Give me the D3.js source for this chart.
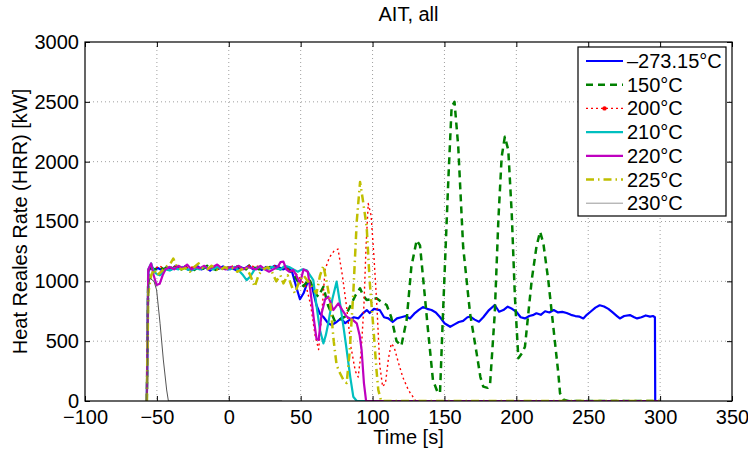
<!DOCTYPE html>
<html><head><meta charset="utf-8">
<script src="https://cdn.jsdelivr.net/npm/d3@7"></script>
<style>body{margin:0;background:#fff}svg{display:block}text{font-family:"Liberation Sans",Arial,sans-serif}</style>
</head><body><svg id="c" width="748" height="450"></svg>
<script>
const title = "AIT, all";
const xLabel = "Time [s]";
const yLabel = "Heat Reales Rate (HRR) [kW]";
const xTicks = [-100,-50,0,50,100,150,200,250,300,350];
const yTicks = [0,500,1000,1500,2000,2500,3000];
const seriesNames = ["\u2013273.15\u00b0C","150\u00b0C","200\u00b0C","210\u00b0C","220\u00b0C","225\u00b0C","230\u00b0C"];

const sBlue = [[-57,0],[-56,1080],[-54,1120],[-52,1100],[-49,1110],[-46,1090],[-43,1120],[-40,1100],[-37,1130],[-34,1105],[-31,1120],[-28,1095],[-25,1110],[-22,1130],[-19,1100],[-16,1115],[-13,1090],[-10,1120],[-7,1105],[-4,1125],[-1,1100],[2,1110],[5,1095],[8,1120],[11,1105],[14,1130],[17,1100],[20,1115],[23,1095],[26,1120],[29,1110],[32,1130],[35,1115],[38,1100],[41,1120],[44,1080],[47,950],[49.5,850],[52,900],[55,1000],[58,950],[61,800],[63.4,730],[66,700],[69,650],[71.6,635],[75,660],[78,690],[81,650],[84,677],[87,700],[90,690],[93,730],[96,760],[98,735],[101,770],[105,760],[108,700],[111,690],[114,660],[117,690],[120,700],[123,710],[126,690],[129,730],[132,760],[135,785],[138,770],[141,760],[144,740],[147,700],[150,650],[154,620],[157,640],[160,660],[163,670],[166,700],[168,705],[171,680],[174,663],[177,700],[181,760],[185,802],[188,746],[191,760],[194,788],[197,770],[200,746],[203,700],[206,690],[209,710],[212,720],[214,733],[217,720],[220,750],[223,740],[226,760],[229,740],[232,745],[235,735],[238,720],[241,710],[244,705],[246.6,690],[249,720],[252,750],[255,780],[258,800],[261,790],[264,770],[267,740],[270,710],[272,690],[275,710],[279,718],[282,700],[284,690],[287,700],[290,715],[293,705],[295,710],[296.4,700],[296.6,0],[300,0]];
const sGreen = [[-57,0],[-56,1050],[-54,1110],[-51,1100],[-48,1120],[-45,1100],[-42,1130],[-39,1105],[-36,1120],[-33,1100],[-30,1125],[-27,1110],[-24,1095],[-21,1120],[-18,1105],[-15,1130],[-12,1110],[-9,1095],[-6,1120],[-3,1105],[0,1115],[3,1100],[6,1125],[9,1110],[12,1100],[15,1140],[18,1115],[21,1100],[24,1120],[27,1105],[30,1130],[33,1110],[36,1100],[39,1120],[42,1090],[45,1060],[48,1000],[52,960],[56,1020],[60,900],[62.3,872],[65.8,955],[69,800],[73.9,663],[77,680],[80.8,705],[84,780],[88,880],[91.3,942],[93.5,880],[95.9,844],[99,850],[102.8,858],[106,830],[109.8,802],[113,700],[116.7,500],[120,460],[123.7,677],[127,1122],[130.7,1345],[133,1300],[135.3,1011],[138.5,600],[142,175],[145,80],[146.9,64],[149,733],[152.7,1847],[155,2459],[157,2500],[159.6,2125],[163,1289],[167.8,733],[172.4,398],[175,200],[177,120],[180,110],[181.7,134],[185,733],[187.5,1512],[189.8,2041],[192,2208],[194.4,2097],[196.8,1568],[199,872],[201.4,357],[204,400],[206,454],[210.7,1011],[214,1289],[216.5,1415],[218.8,1317],[222.2,1011],[225.7,621],[229.2,231],[230.4,64],[233,10],[236,0],[300,0]];
const sRed = [[-57,0],[-56,1080],[-54,1120],[-51,1110],[-48,1130],[-45,1100],[-42,1120],[-39,1115],[-36,1130],[-33,1100],[-30,1120],[-27,1110],[-24,1130],[-21,1100],[-18,1120],[-15,1105],[-12,1125],[-9,1110],[-6,1100],[-3,1120],[0,1115],[3,1130],[6,1100],[9,1120],[12,1110],[15,1140],[18,1115],[21,1130],[24,1100],[27,1120],[30,1110],[33,1140],[36,1120],[39,1110],[42,1100],[45,1080],[48,1050],[51,1000],[54,950],[57,800],[60,550],[62.5,430],[64.5,700],[67,1100],[70,1200],[73,1250],[76,1270],[79,1050],[82,780],[85,450],[88,250],[90,200],[92,400],[94,800],[95.5,1300],[97,1650],[99,1550],[101,1200],[103,800],[105,300],[107,120],[109,150],[111,350],[113,480],[115,450],[118,320],[121,200],[125,90],[130,0],[300,0]];
const sCyan = [[-57,0],[-56,1100],[-54,1150],[-52,1080],[-50,1060],[-48,1050],[-46,1070],[-44,1100],[-41,1090],[-38,1110],[-35,1100],[-32,1120],[-29,1100],[-26,1090],[-23,1110],[-20,1100],[-17,1120],[-14,1110],[-11,1100],[-8,1120],[-5,1105],[-2,1110],[1,1100],[4,1120],[7,1090],[10,1050],[12.4,1010],[15,1040],[18,1100],[21,1120],[24,1110],[27,1100],[30,1120],[33,1110],[36,1100],[39,1130],[42,1120],[45,1100],[48,1080],[51,1100],[54,1095],[56,1060],[58.8,1011],[61,800],[63.4,593],[65.8,482],[67.5,550],[69.2,649],[72,850],[75,997],[77.4,816],[80,600],[82,426],[84.5,200],[86.6,36],[89,0],[300,0]];
const sMagenta = [[-57,0],[-56,1100],[-54,1150],[-52.5,1060],[-50.2,969],[-48,980],[-46,1050],[-44,1100],[-41,1120],[-38,1100],[-35,1130],[-32,1110],[-29,1140],[-26,1100],[-23,1120],[-20,1110],[-17,1130],[-14,1100],[-11,1120],[-8,1140],[-5,1110],[-2,1100],[1,1120],[4,1110],[7,1130],[10,1100],[13,1120],[16,1110],[19,1100],[22,1130],[25,1100],[28,1080],[31,1100],[34,1120],[36,1160],[38,1164],[40,1100],[42,1080],[44.8,1095],[47,1050],[49.5,983],[52,1100],[55,1080],[57,900],[59,700],[61,520],[62.5,510],[64.6,733],[67,850],[69.2,872],[72.7,760],[76.2,816],[79,760],[82,705],[86,680],[89,649],[91,550],[92.4,426],[94,150],[95.5,0],[300,0]];
const sYellow = [[-57,0],[-56,900],[-54,1050],[-52,1100],[-50,1050],[-47,1080],[-44,1120],[-41,1140],[-38.6,1190],[-36,1120],[-33,1100],[-30,1110],[-27,1080],[-24,1120],[-21,1150],[-18,1110],[-15,1100],[-12,1130],[-9,1100],[-6,1090],[-3,1120],[0,1100],[3,1110],[6,1080],[9,1100],[12,1120],[15,1050],[18,955],[21,1060],[24,1100],[27,1120],[30,1080],[33,1000],[36,1050],[38,983],[41,1050],[44,950],[46,900],[49,1000],[52,1050],[55,1000],[58,950],[61,900],[63.5,1050],[65.8,1130],[68,1000],[70.4,844],[73,500],[75,300],[77.4,232],[80,170],[82,150],[84,400],[86.6,900],[89,1500],[91.3,1830],[93,1700],[95.9,1457],[98,1000],[100.5,621],[102.8,250],[104,92],[106,0],[300,0]];
const sGray = [[-57,0],[-56,950],[-54.8,1025],[-52,1000],[-50.2,928],[-47.8,649],[-45.5,343],[-43.2,92],[-42,0],[37,0]];

const styles = [
  {d:sBlue, color:"#0000ff", w:2.2, dash:null},
  {d:sGreen, color:"#008000", w:2.5, dash:"7,5"},
  {d:sRed, color:"#ff0000", w:1.4, dash:"2,3"},
  {d:sCyan, color:"#00bfbf", w:2.2, dash:null},
  {d:sMagenta, color:"#bf00bf", w:2.2, dash:null},
  {d:sYellow, color:"#bfbf00", w:2.5, dash:"8,4,1.5,4"},
  {d:sGray, color:"#555555", w:1, dash:null}
];

const L=85, R=732, T=42, B=401;
const svg = d3.select("#c");
const x = d3.scaleLinear().domain([-100,350]).range([L,R]);
const y = d3.scaleLinear().domain([0,3000]).range([B,T]);

// grid
const g = svg.append("g");
xTicks.forEach(t=>{ if(t>-100 && t<350) g.append("line").attr("x1",x(t)).attr("x2",x(t)).attr("y1",T).attr("y2",B).attr("stroke","#888").attr("stroke-width",0.8).attr("stroke-dasharray","1,3"); });
yTicks.forEach(t=>{ if(t>0 && t<3000) g.append("line").attr("x1",L).attr("x2",R).attr("y1",y(t)).attr("y2",y(t)).attr("stroke","#888").attr("stroke-width",0.8).attr("stroke-dasharray","1,3"); });

// data
const line = d3.line().x(d=>x(d[0])).y(d=>y(d[1]));
svg.append("clipPath").attr("id","cp").append("rect").attr("x",L).attr("y",T).attr("width",R-L).attr("height",B-T);
const dg = svg.append("g").attr("clip-path","url(#cp)");
styles.forEach(s=>{
  const p = dg.append("path").datum(s.d).attr("d",line).attr("fill","none").attr("stroke",s.color).attr("stroke-width",s.w).attr("stroke-linejoin","round");
  if(s.dash) p.attr("stroke-dasharray",s.dash);
});

// axes with inward ticks
const fs = "20px";
const axB = d3.axisBottom(x).tickValues(xTicks).tickSize(-5).tickPadding(9).tickFormat(d=>d<0?"\u2212"+Math.abs(d):String(d));
const axT = d3.axisTop(x).tickValues(xTicks).tickSize(-5).tickFormat("");
const axL = d3.axisLeft(y).tickValues(yTicks).tickSize(-5).tickPadding(6).tickFormat(d=>String(d));
const axR = d3.axisRight(y).tickValues(yTicks).tickSize(-5).tickFormat("");
function style(sel){ sel.select(".domain").remove(); sel.selectAll("line").attr("stroke","#000"); sel.selectAll("text").attr("font-size",fs).attr("fill","#000").attr("font-family","Liberation Sans, Arial, sans-serif"); }
svg.append("g").attr("transform",`translate(0,${B})`).call(axB).call(style);
svg.append("g").attr("transform",`translate(0,${T})`).call(axT).call(style);
svg.append("g").attr("transform",`translate(${L},0)`).call(axL).call(style);
svg.append("g").attr("transform",`translate(${R},0)`).call(axR).call(style);
svg.append("rect").attr("x",L).attr("y",T).attr("width",R-L).attr("height",B-T).attr("fill","none").attr("stroke","#000").attr("stroke-width",1.2);

// labels
svg.append("text").attr("x",(L+R)/2).attr("y",21).attr("text-anchor","middle").attr("font-size",fs).text(title);
svg.append("text").attr("x",(L+R)/2).attr("y",444).attr("text-anchor","middle").attr("font-size",fs).text(xLabel);
svg.append("text").attr("transform",`translate(27,${(T+B)/2}) rotate(-90)`).attr("text-anchor","middle").attr("font-size",fs).text(yLabel);

// legend
const lg = svg.append("g");
lg.append("rect").attr("x",578).attr("y",47).attr("width",148).attr("height",169).attr("fill","#fff").attr("stroke","#000").attr("stroke-width",1.2);
styles.forEach((s,i)=>{
  const yy = 61 + i*23.7;
  const l = lg.append("line").attr("x1",586).attr("x2",623).attr("y1",yy).attr("y2",yy).attr("stroke",s.color).attr("stroke-width",s.w);
  if(s.dash) l.attr("stroke-dasharray",s.dash);
  if(i===2) lg.append("circle").attr("cx",604.5).attr("cy",yy).attr("r",2.2).attr("fill",s.color);
  if(i===6) l.attr("stroke","#999");
  lg.append("text").attr("x",627).attr("y",yy+7).attr("font-size",fs).text(seriesNames[i]);
});
</script></body></html>
